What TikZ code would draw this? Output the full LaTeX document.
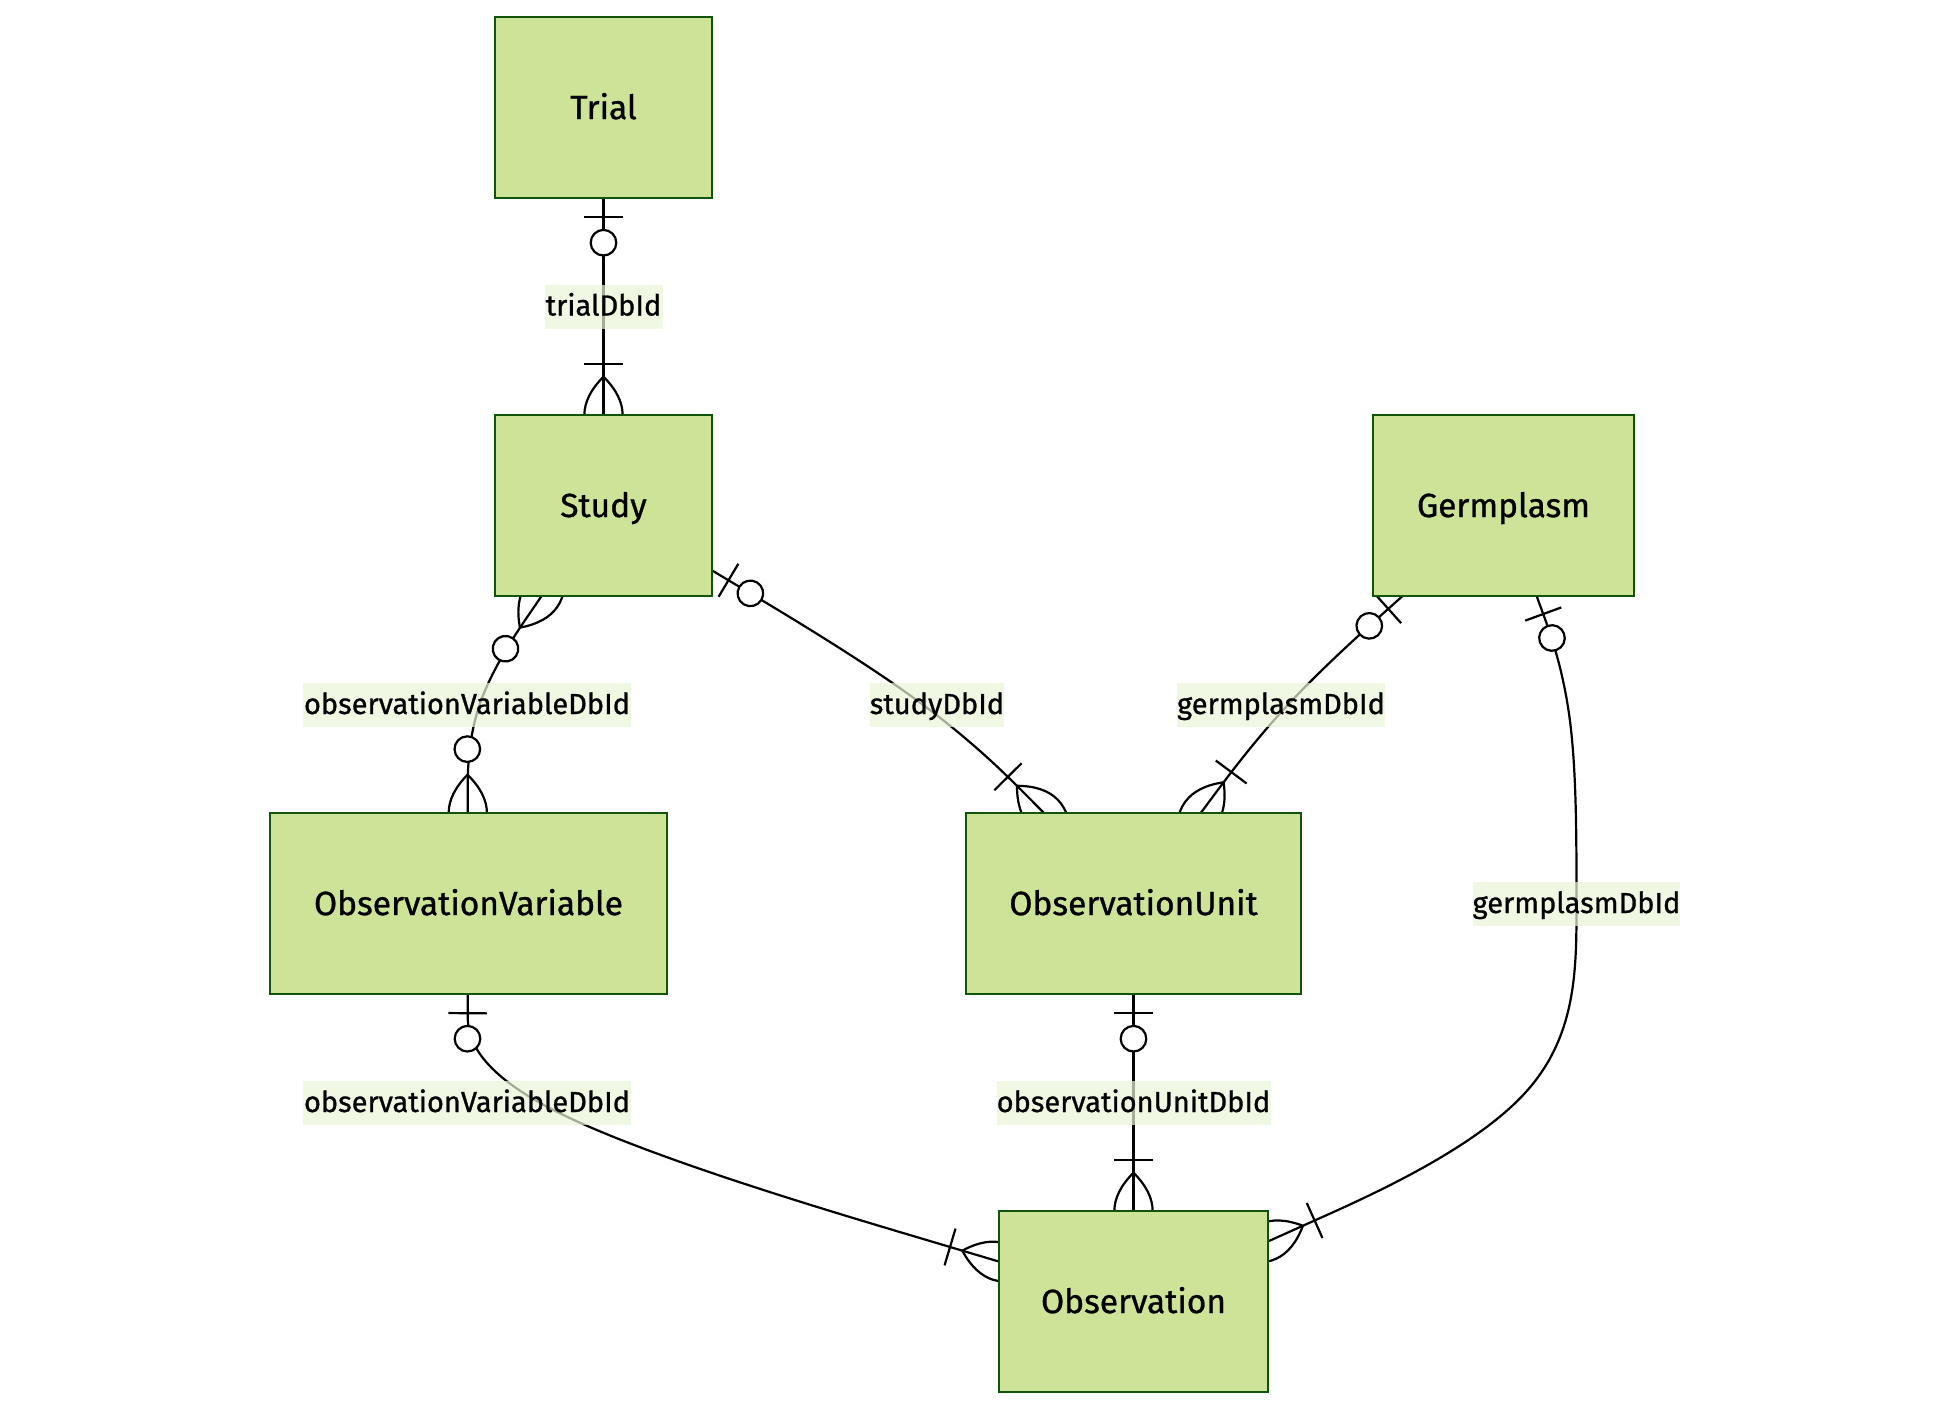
\documentclass[tikz,border=0pt]{standalone}
\usepackage{fontspec}
\setmainfont{Fira Sans}[RawFeature={embolden=0.9}]
\usetikzlibrary{calc}
\pgfdeclarelayer{edges}
\pgfsetlayers{edges,main}
\definecolor{entfill}{HTML}{CDE498}
\definecolor{entline}{HTML}{13540C}
\definecolor{lblfill}{RGB}{234,244,214}
\newlength\fitlen
\newcommand\fitsize[3]{%
  \settowidth\fitlen{\normalfont\fontsize{10pt}{12pt}\selectfont #3}%
  \pgfmathsetmacro#1{10*#2/\fitlen}}
\newcommand\entfont{\fontsize{\entsize pt}{\entsize pt}\selectfont}
\newcommand\lblfont{\fontsize{\lblsize pt}{\lblsize pt}\selectfont}
\tikzset{
  entity/.style={draw=entline, fill=entfill, line width=1pt, inner sep=0pt,
    outer sep=0pt, minimum height=90.5pt, font=\entfont, text height=\enth pt, text depth=0pt},
  rel/.style={line width=1.1pt, draw=black},
  lbl/.style={fill=lblfill, fill opacity=0.7, text opacity=1, inner sep=0pt,
    minimum height=22pt, font=\lblfont, text height=\lblh pt, text depth=0pt},
}
% marker helpers
\newcommand\mkang[2]{\pgfmathanglebetweenpoints{\pgfpointanchor{#1}{center}}{\pgfpointanchor{#2}{center}}\let\mkA\pgfmathresult}
\newcommand\lens{\draw[rel] (-38.3,0) .. controls (-12.8,25.5) and (12.8,25.5) .. (38.3,0) .. controls (12.8,-25.5) and (-12.8,-25.5) .. (-38.3,0);}
\newcommand\zeroone[2]{\mkang{#1}{#2}\begin{scope}[shift={(#1)},rotate=\mkA]
  \draw[rel] (19.2,-19.2) -- (19.2,19.2);
  \draw[rel,fill=white] (44.7,0) circle[radius=12.8];\end{scope}}
\newcommand\onemany[2]{\mkang{#1}{#2}\begin{scope}[shift={(#1)},rotate=\mkA]
  \lens
  \draw[rel] (51.1,-19.2) -- (51.1,19.2);\end{scope}}
\newcommand\zeromany[2]{\mkang{#1}{#2}\begin{scope}[shift={(#1)},rotate=\mkA]
  \lens
  \draw[rel,fill=white] (63.9,0) circle[radius=12.8];\end{scope}}
% d3 curveBasis through three points
\newcommand\edgethree[3]{\draw[rel] (#1) -- ($(#1)!1/6!(#2)$)
  .. controls ($(#1)!1/3!(#2)$) and ($(#1)!2/3!(#2)$) .. ($($(#1)!.5!(#3)$)!2/3!(#2)$)
  .. controls ($(#2)!1/3!(#3)$) and ($(#2)!2/3!(#3)$) .. ($(#2)!5/6!(#3)$) -- (#3);}
\begin{document}
\fitsize\lblsize{163}{observationVariableDbId}%
\fitsize\entsize{154.5}{ObservationVariable}%
\pgfmathsetmacro\enth{0.69*\entsize}%
\pgfmathsetmacro\lblh{0.62*\lblsize}%
\begin{tikzpicture}[x=0.5pt,y=-0.5pt]
\begin{pgfonlayer}{edges}
  \fill[white] (0,0) rectangle (1950,1410);
\end{pgfonlayer}
\useasboundingbox (0,0) rectangle (1950,1410);

% entities
\node[entity, minimum width=108.5pt] (trial) at (603.5,107.5) {Trial};
\node[entity, minimum width=108.5pt] (study) at (603.5,505.5) {Study};
\node[entity, minimum width=130.5pt] (germ)  at (1503.5,505.5) {Germplasm};
\node[entity, minimum width=198.5pt] (ovar)  at (468.5,903.5) {ObservationVariable};
\node[entity, minimum width=167.5pt] (ounit) at (1133.5,903.5) {ObservationUnit};
\node[entity, minimum width=134.5pt] (obs)   at (1133.5,1301.5) {Observation};

% label / route points
\coordinate (l1) at (603.5,306.5);
\coordinate (l2) at (467,705);
\coordinate (l3) at (937,705);
\coordinate (l4) at (1281,705);
\coordinate (l5) at (1576.5,904);
\coordinate (l6) at (467,1103);
\coordinate (l7) at (1133.5,1103);
\coordinate (d5a) at (1576.5,705);
\coordinate (d5b) at (1576.5,1103);

% end points on the entity borders
\path (trial) -- (l1) coordinate[pos=0] (e1a);
\path (l1) -- (study) coordinate[pos=1] (e1b);
\path (study) -- (l2) coordinate[pos=0] (e2a);
\path (l2) -- (ovar) coordinate[pos=1] (e2b);
\path (study) -- (l3) coordinate[pos=0] (e3a);
\path (l3) -- (ounit) coordinate[pos=1] (e3b);
\path (germ) -- (l4) coordinate[pos=0] (e4a);
\path (l4) -- (ounit) coordinate[pos=1] (e4b);
\path (germ) -- (d5a) coordinate[pos=0] (e5a);
\path (d5b) -- (obs) coordinate[pos=1] (e5b);
\path (ovar) -- (l6) coordinate[pos=0] (e6a);
\path (l6) -- (obs) coordinate[pos=1] (e6b);
\path (ounit) -- (l7) coordinate[pos=0] (e7a);
\path (l7) -- (obs) coordinate[pos=1] (e7b);

\begin{pgfonlayer}{edges}
  \draw[rel] (e1a) -- (e1b);
  \edgethree{e2a}{l2}{e2b}
  \edgethree{e3a}{l3}{e3b}
  \edgethree{e4a}{l4}{e4b}
  \draw[rel] (e5a) -- ($(e5a)!1/6!(d5a)$)
    .. controls ($(e5a)!1/3!(d5a)$) and ($(e5a)!2/3!(d5a)$) .. ($($(e5a)!.5!(l5)$)!2/3!(d5a)$)
    .. controls ($(d5a)!1/3!(l5)$) and ($(d5a)!2/3!(l5)$) .. ($($(d5a)!.5!(d5b)$)!2/3!(l5)$)
    .. controls ($(l5)!1/3!(d5b)$) and ($(l5)!2/3!(d5b)$) .. ($($(l5)!.5!(e5b)$)!2/3!(d5b)$)
    .. controls ($(d5b)!1/3!(e5b)$) and ($(d5b)!2/3!(e5b)$) .. ($(d5b)!5/6!(e5b)$) -- (e5b);
  \edgethree{e6a}{l6}{e6b}
  \draw[rel] (e7a) -- (e7b);
  % markers
  \zeroone{e1a}{l1}  \onemany{e1b}{l1}
  \zeromany{e2a}{l2} \zeromany{e2b}{l2}
  \zeroone{e3a}{l3}  \onemany{e3b}{l3}
  \zeroone{e4a}{l4}  \onemany{e4b}{l4}
  \zeroone{e5a}{d5a} \onemany{e5b}{d5b}
  \zeroone{e6a}{l6}  \onemany{e6b}{l6}
  \zeroone{e7a}{l7}  \onemany{e7b}{l7}
\end{pgfonlayer}

% relationship labels
\node[lbl, minimum width=59pt]  (t1) at (l1) {trialDbId};
\node[lbl, minimum width=164pt] (t2) at (l2) {observationVariableDbId};
\node[lbl, minimum width=66pt]  (t3) at (l3) {studyDbId};
\node[lbl, minimum width=103pt] (t4) at (l4) {germplasmDbId};
\node[lbl, minimum width=103.5pt] (t5) at (l5) {germplasmDbId};
\node[lbl, minimum width=164pt] (t6) at (l6) {observationVariableDbId};
\node[lbl, minimum width=137pt] (t7) at (l7) {observationUnitDbId};
\end{tikzpicture}
\end{document}
